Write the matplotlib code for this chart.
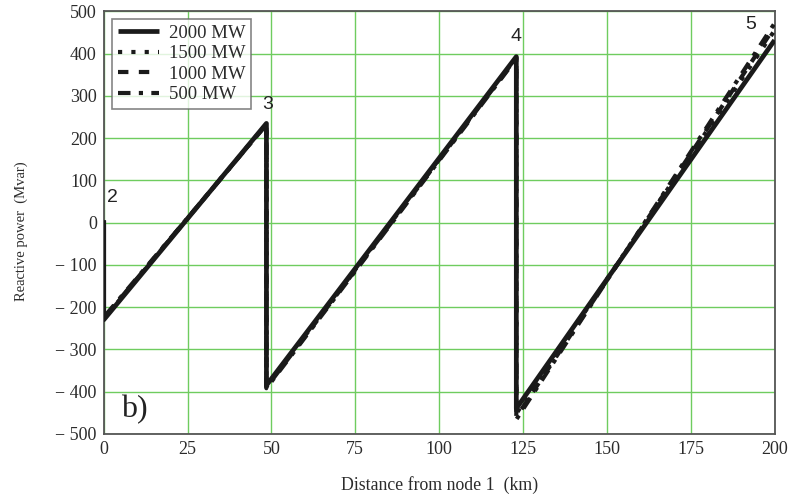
import numpy as np
import matplotlib
matplotlib.use("Agg")
import matplotlib.pyplot as plt

# node positions along the line (km) and labels
node_km = [0, 48.5, 123, 200]
node_names = ["2", "3", "4", "5"]

# reactive power at each segment start / end (Mvar), per transmitted power
powers = ["2000 MW", "1500 MW", "1000 MW", "500 MW"]
q_node2 = [5, 5, 5, 5]
q_start = {
    "2000 MW": [-230, -385, -440],
    "1500 MW": [-228, -388, -452],
    "1000 MW": [-226, -390, -460],
    "500 MW": [-224, -392, -466],
}
q_end = {
    "2000 MW": [235, 393, 432],
    "1500 MW": [234, 391, 455],
    "1000 MW": [233, 390, 463],
    "500 MW": [232, 388, 472],
}

styles = {
    "2000 MW": dict(ls="-", lw=3.4),
    "1500 MW": dict(ls=(0, (1, 2.2)), lw=3.0),
    "1000 MW": dict(ls=(0, (2.5, 2.5)), lw=3.0),
    "500 MW": dict(ls=(0, (3, 2, 1, 2)), lw=3.0),
}

serif = ["Liberation Serif", "DejaVu Serif"]
tick_col = "#2b2b2b"

fig = plt.figure(figsize=(7.92, 4.97), dpi=100)
ax = fig.add_axes([0.131, 0.127, 0.847, 0.850])

for i, p in enumerate(powers):
    xs = [node_km[0]]
    ys = [q_node2[i]]
    for k in range(3):
        xs += [node_km[k], node_km[k + 1]]
        ys += [q_start[p][k], q_end[p][k]]
    ax.plot(xs, ys, color="#1a1a1a", label=p, zorder=3 + (3 - i),
            solid_capstyle="butt", **styles[p])

ax.set_xlim(0, 200)
ax.set_ylim(-500, 500)
ax.set_xticks(np.arange(0, 201, 25))
ax.set_yticks(np.arange(-500, 501, 100))
ax.set_yticklabels([("\u2212 %d" % -v) if v < 0 else str(v)
                    for v in range(-500, 501, 100)])
ax.grid(True, color="#6fcc5f", lw=1.0)
ax.tick_params(length=0, pad=5, labelsize=13, colors=tick_col)
for lab in ax.get_xticklabels() + ax.get_yticklabels():
    lab.set_family(serif)
for s in ax.spines.values():
    s.set_color("#555555")
    s.set_linewidth(1.3)

ax.set_xlabel("Distance from node 1  (km)", family=serif, fontsize=12.8,
              color=tick_col, labelpad=13)
ax.set_ylabel("Reactive power  (Mvar)", family=serif, fontsize=10.5,
              color=tick_col)
ax.yaxis.set_label_coords(-0.113, 0.48)

# node labels
label_xy = [(2.7, 59), (49, 280), (123, 441), (193, 469)]
for name, (lx, ly) in zip(node_names, label_xy):
    ax.text(lx, ly, name, fontsize=14, family=["Liberation Sans"],
            color="#222222", ha="center", va="center", zorder=6)

ax.text(5.2, -443, "b)", fontsize=23, family=serif, color="#222222",
        va="center", ha="left", zorder=6)

leg = ax.legend(loc="upper left", bbox_to_anchor=(0.013, 0.982),
                prop={"family": serif, "size": 13.5}, frameon=True,
                fancybox=False, handlelength=2.2, borderpad=0.3,
                borderaxespad=0.0, labelspacing=0.18, handletextpad=0.5)
leg.get_frame().set_edgecolor("#666666")
leg.get_frame().set_linewidth(1.2)
for t in leg.get_texts():
    t.set_color(tick_col)

fig.savefig("out.png", dpi=100)
